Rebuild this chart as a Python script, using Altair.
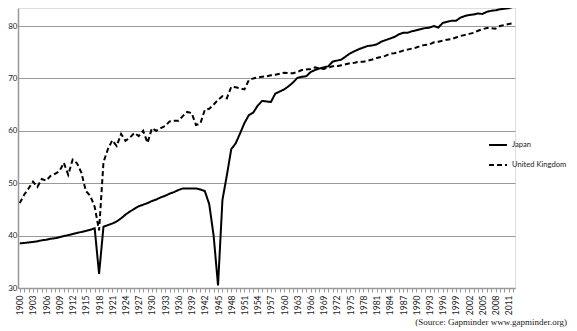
import altair as alt
import pandas as pd

years = list(range(1900, 2013))

japan = [
    38.5, 38.6, 38.7, 38.8, 38.9, 39.1, 39.2, 39.4, 39.5, 39.7,   # 1900-1909
    39.9, 40.1, 40.3, 40.5, 40.7, 40.9, 41.1, 41.4, 32.7, 41.7,   # 1910-1919
    42.0, 42.3, 42.7, 43.3, 44.0, 44.6, 45.1, 45.6, 45.9, 46.2,   # 1920-1929
    46.6, 46.9, 47.3, 47.6, 48.0, 48.3, 48.7, 49.0, 49.0, 49.0,   # 1930-1939
    49.0, 48.8, 48.5, 46.0, 40.0, 30.5, 46.8, 51.5, 56.5, 57.6,   # 1940-1949
    59.5, 61.5, 63.0, 63.5, 64.8, 65.7, 65.6, 65.5, 67.1, 67.5,   # 1950-1959
    67.9, 68.5, 69.2, 70.1, 70.3, 70.4, 71.2, 71.6, 71.9, 72.1,   # 1960-1969
    72.3, 73.2, 73.4, 73.6, 74.2, 74.8, 75.2, 75.6, 75.9, 76.2,   # 1970-1979
    76.3, 76.5, 77.0, 77.3, 77.6, 77.9, 78.4, 78.7, 78.7, 79.0,   # 1980-1989
    79.2, 79.4, 79.6, 79.7, 80.0, 79.7, 80.6, 80.8, 81.0, 81.0,   # 1990-1999
    81.6, 81.9, 82.1, 82.2, 82.4, 82.3, 82.7, 82.9, 83.0, 83.2,   # 2000-2009
    83.3, 83.4, 83.7,                                             # 2010-2012
]

united_kingdom = [
    46.2, 47.8, 49.0, 50.3, 49.3, 50.8, 50.5, 51.4, 51.8, 52.3,   # 1900-1909
    53.9, 51.6, 54.5, 53.8, 52.0, 48.5, 47.6, 45.5, 41.0, 54.0,   # 1910-1919
    56.5, 58.2, 57.1, 59.4, 58.1, 58.7, 59.6, 59.0, 60.0, 57.7,   # 1920-1929
    60.5, 60.0, 60.5, 60.9, 61.8, 61.9, 61.9, 62.8, 63.6, 63.4,   # 1930-1939
    61.1, 61.4, 64.0, 64.2, 65.0, 65.9, 66.6, 66.2, 68.4, 68.3,   # 1940-1949
    68.1, 67.9, 69.7, 70.0, 70.2, 70.3, 70.4, 70.6, 70.7, 70.9,   # 1950-1959
    71.1, 71.0, 71.0, 71.2, 71.6, 71.7, 71.8, 72.1, 71.9, 71.8,   # 1960-1969
    72.1, 72.3, 72.3, 72.5, 72.7, 72.9, 73.0, 73.2, 73.2, 73.4,   # 1970-1979
    73.6, 73.9, 74.1, 74.3, 74.7, 74.8, 75.0, 75.3, 75.5, 75.7,   # 1980-1989
    75.9, 76.2, 76.4, 76.5, 76.9, 77.0, 77.2, 77.4, 77.5, 77.8,   # 1990-1999
    78.1, 78.3, 78.5, 78.7, 79.1, 79.4, 79.6, 79.6, 79.5, 80.0,   # 2000-2009
    80.2, 80.4, 80.5,                                             # 2010-2012
]

series_names = ["Japan", "United Kingdom"]
y_ticks = [30, 40, 50, 60, 70, 80]
source_note = "(Source: Gapminder www.gapminder.org)"

df = pd.DataFrame({
    "year": years * 2,
    "value": japan + united_kingdom,
    "country": [series_names[0]] * len(years) + [series_names[1]] * len(years),
})

W, H = 497, 280
FONT = "Lato"

lines = alt.Chart(df).mark_line(color="black", strokeWidth=2).encode(
    x=alt.X(
        "year:Q",
        scale=alt.Scale(domain=[1899.6, 2012.4], nice=False, zero=False),
        axis=alt.Axis(
            title=None,
            values=years,
            labelExpr="(datum.value - 1900) % 3 == 0 ? datum.value : ''",
            labelAngle=-90,
            labelAlign="right",
            labelBaseline="middle",
            labelPadding=3,
            tickSize=4,
            tickColor="#999999",
            domainColor="#999999",
            domainWidth=1.5,
            grid=False,
            labelFont=FONT,
            labelFontSize=8.5,
            labelColor="#222222",
            labelOverlap=False,
        ),
    ),
    y=alt.Y(
        "value:Q",
        scale=alt.Scale(domain=[30, 83.44], nice=False, zero=False),
        axis=alt.Axis(
            title=None,
            values=y_ticks,
            grid=True,
            gridColor="#9a9a9a",
            gridWidth=1.2,
            ticks=False,
            domainColor="#999999",
            domainWidth=1.5,
            labelPadding=1,
            labelFont=FONT,
            labelFontSize=8,
            labelColor="#222222",
        ),
    ),
    strokeDash=alt.StrokeDash(
        "country:N",
        scale=alt.Scale(domain=series_names, range=[[1, 0], [5, 3]]),
        legend=alt.Legend(
            title=None,
            orient="none",
            legendX=470,
            legendY=127,
            symbolType="stroke",
            symbolSize=324,
            symbolStrokeWidth=2,
            symbolStrokeColor="black",
            labelFont=FONT,
            labelFontSize=7.6,
            labelColor="#222222",
            labelOffset=4,
            rowPadding=6,
            padding=0,
        ),
    ),
)

source = alt.Chart(pd.DataFrame({"t": [source_note]})).mark_text(
    font="Liberation Serif", fontSize=9, align="right", baseline="middle", color="#222222"
).encode(
    text="t:N",
    x=alt.value(549),
    y=alt.value(314),
)

chart = alt.layer(lines, source).properties(
    width=W,
    height=H,
    autosize=alt.AutoSizeParams(type="none"),
    padding={"left": 10, "top": 0, "right": 54, "bottom": 43},
).configure_view(stroke=None).configure(background="white")

chart.save("out.html", embed_options={"renderer": "svg", "actions": False})
